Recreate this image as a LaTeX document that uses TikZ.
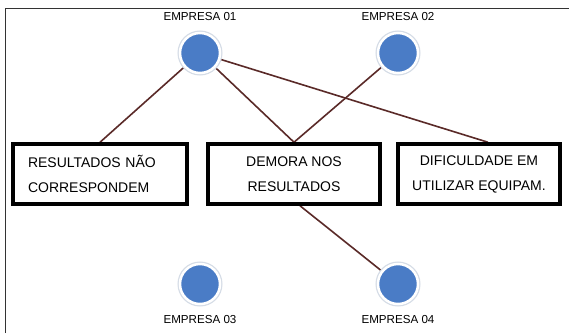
\documentclass[tikz,border=0pt]{standalone}
\usepackage{fontspec}
\setmainfont{Liberation Sans}
\usetikzlibrary{calc}
\pgfdeclarelayer{background}
\pgfsetlayers{background,main}
\definecolor{nodeblue}{HTML}{4A7CC6}
\definecolor{linkbrown}{HTML}{5A2A28}
\definecolor{ringgray}{HTML}{D5DCE6}
\tikzset{
  company/.style={circle, fill=nodeblue, draw=white, line width=2.5pt, minimum size=40pt, inner sep=0pt,
    preaction={draw=ringgray, line width=5pt}},
  label text/.style={font=\fontsize{11.6}{13}\selectfont, inner sep=0pt},
  issue/.style={draw=black, line width=3.5pt, minimum height=60pt, inner sep=0pt,
    font=\fontsize{14}{25}\selectfont},
  link/.style={draw=linkbrown, line width=1.6pt}
}
\begin{document}
\begin{tikzpicture}[x=1pt,y=-1pt]
\useasboundingbox (0,0) rectangle (569,333);
% frame
\coordinate (fl) at (5.5,333);
\coordinate (ftl) at (5.5,8.5);
\coordinate (fr) at (569,8.5);
\draw[line width=1.8pt, draw=black!80] (fl) -- (ftl) -- (fr);
% companies
\node[company] (e1) at (200,53) {};
\node[company] (e2) at (398,53) {};
\node[company] (e3) at (200,284) {};
\node[company] (e4) at (398,284) {};
\node[label text] (l1) at (200,17) {EMPRESA 01};
\node[label text] (l2) at (398,17) {EMPRESA 02};
\node[label text] (l3) at (200,319) {EMPRESA 03};
\node[label text] (l4) at (398,319) {EMPRESA 04};
% issues
\node[issue, minimum width=174pt, align=left, text width=144pt] (b1) at (100,174) {RESULTADOS NÃO\\CORRESPONDEM};
\node[issue, minimum width=172pt, align=center] (b2) at (294,174) {DEMORA NOS\\RESULTADOS};
\node[issue, minimum width=162pt, align=center] (b3) at (479,174) {DIFICULDADE EM\\UTILIZAR EQUIPAM.};
% links
\coordinate (b3in) at ($(b3.north)+(9,0)$);
\coordinate (b2out) at ($(b2.south)+(6,0)$);
\begin{pgfonlayer}{background}
\fill[white] (0,0) rectangle (569,333);
\draw[link] (e1) -- (b1.north);
\draw[link] (e1) -- (b2.north);
\draw[link] (e1) -- (b3in);
\draw[link] (e2) -- (b2.north);
\draw[link] (b2out) -- (e4);
\end{pgfonlayer}
\end{tikzpicture}
\end{document}
